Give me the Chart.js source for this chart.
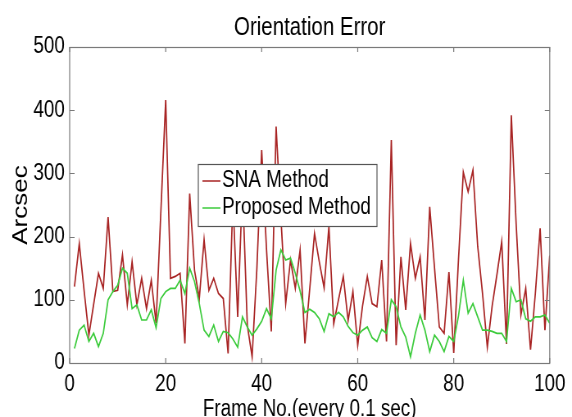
<!DOCTYPE html>
<html lang="en">
<head>
<meta charset="UTF-8">
<title>Orientation Error</title>
<script src="https://cdn.jsdelivr.net/npm/chart.js"></script>
<style>
  html, body { margin: 0; padding: 0; background: #fff; }
  /* the figure is squeezed sideways like the exported image, so the wider
     canvas is shown at 572px */
  #myChart { display: block; }
</style>
</head>
<body>
<canvas id="myChart" width="698" height="417" style="width:572px;height:417px"></canvas>
<script>
const FONT = "'Liberation Sans', Arial, sans-serif";

// values, frame 1..100
const snaMethod = [
  121, 189, 115, 44, 93, 142, 118, 231, 113, 115,
  171, 92, 160, 92, 134, 86, 131, 63, 240, 416,
  134, 137, 142, 31, 268, 147, 102, 195, 115, 134,
  110, 102, 15, 260, 73, 280, 60, 10, 150, 337,
  180, 50, 374, 230, 94, 163, 118, 179, 31, 117,
  205, 160, 119, 216, 62, 100, 137, 67, 113, 28,
  90, 137, 94, 89, 163, 34, 353, 28, 168, 84,
  189, 134, 168, 68, 247, 150, 57, 47, 144, 16,
  165, 302, 271, 305, 184, 110, 25, 90, 140, 192,
  30, 392, 220, 76, 118, 21, 110, 213, 52, 170
];
const proposedMethod = [
  23, 52, 60, 34, 47, 26, 47, 100, 113, 123,
  150, 142, 86, 92, 68, 68, 84, 56, 102, 113,
  118, 118, 131, 110, 150, 129, 94, 52, 42, 60,
  34, 50, 48, 38, 25, 73, 57, 44, 54, 66,
  86, 70, 147, 179, 163, 166, 142, 114, 80, 85,
  80, 70, 50, 78, 73, 80, 73, 58, 48, 44,
  52, 57, 40, 34, 53, 47, 100, 89, 57, 41,
  10, 47, 76, 52, 18, 44, 34, 18, 42, 34,
  75, 131, 79, 94, 73, 52, 52, 50, 47, 47,
  34, 118, 97, 100, 70, 66, 73, 73, 76, 63
];
const frames = snaMethod.map((v, i) => i + 1);
const xTicks = [0, 20, 40, 60, 80, 100];
const yTicks = [0, 100, 200, 300, 400, 500];
const seriesNames = ['SNA Method', 'Proposed Method'];
const seriesColors = ['#A82424', '#3CCB3C'];

// matlab style box with inward ticks, legend drawn over the lines
const boxPlugin = {
    id: 'matlabBox',
    afterDatasetsDraw(chart) {
        const ctx = chart.ctx;
        const a = chart.chartArea;
        const xs = chart.scales.x, ys = chart.scales.y;
        ctx.save();
        ctx.strokeStyle = '#7a7a7a';
        ctx.lineWidth = 1.2;
        ctx.strokeRect(a.left, a.top + 0.5, a.right - a.left, a.bottom - a.top);
        ctx.beginPath();
        xTicks.forEach(v => {
            const px = xs.getPixelForValue(v);
            ctx.moveTo(px, a.bottom); ctx.lineTo(px, a.bottom - 5);
            ctx.moveTo(px, a.top); ctx.lineTo(px, a.top + 5);
        });
        yTicks.forEach(v => {
            const py = Math.round(ys.getPixelForValue(v)) + 0.5;
            ctx.moveTo(a.left, py); ctx.lineTo(a.left + 6, py);
            ctx.moveTo(a.right, py); ctx.lineTo(a.right - 6, py);
        });
        ctx.stroke();

        // legend
        const lx = a.left + 157, ly = a.top + 117, lw = 218, lh = 62;
        ctx.fillStyle = '#fff';
        ctx.fillRect(lx, ly, lw, lh);
        ctx.strokeStyle = '#555';
        ctx.lineWidth = 1.2;
        ctx.strokeRect(lx, ly + 0.5, lw, lh);
        ctx.font = '23px ' + FONT;
        ctx.textBaseline = 'middle';
        ctx.textAlign = 'left';
        seriesNames.forEach((name, i) => {
            const y = ly + 17 + i * 27;
            ctx.strokeStyle = seriesColors[i];
            ctx.lineWidth = 1.5;
            ctx.beginPath();
            ctx.moveTo(lx + 5, y); ctx.lineTo(lx + 27, y);
            ctx.stroke();
            ctx.fillStyle = '#000';
            ctx.fillText(name, lx + 29, y);
        });
        ctx.restore();
    }
};

var ctx = document.getElementById('myChart').getContext('2d');
var myChart = new Chart(ctx, {
    type: 'line',
    data: {
        labels: frames,
        datasets: [{
            label: seriesNames[0],
            data: frames.map((f, i) => ({x: f, y: snaMethod[i]})),
            borderColor: seriesColors[0],
            borderWidth: 1.7,
            pointRadius: 0,
            tension: 0,
            fill: false,
            order: 1
        }, {
            label: seriesNames[1],
            data: frames.map((f, i) => ({x: f, y: proposedMethod[i]})),
            borderColor: seriesColors[1],
            borderWidth: 1.7,
            pointRadius: 0,
            tension: 0,
            fill: false,
            order: 0
        }]
    },
    options: {
        responsive: false,
        animation: false,
        layout: { padding: { left: 0, right: 26, top: 0, bottom: 0 } },
        plugins: {
            legend: { display: false },
            tooltip: { enabled: false },
            title: {
                display: true,
                text: 'Orientation Error',
                color: '#000',
                fullSize: false,
                font: { family: FONT, size: 25, weight: 'normal', lineHeight: 1.2 },
                padding: { top: 13, bottom: 4 }
            }
        },
        scales: {
            x: {
                type: 'linear',
                min: 0,
                max: 100,
                afterBuildTicks: s => { s.ticks = xTicks.map(v => ({value: v})); },
                afterFit: s => { s.height = 54; },
                grid: { display: false, drawTicks: false },
                border: { display: false },
                ticks: {
                    color: '#000',
                    padding: 8,
                    maxRotation: 0,
                    font: { family: FONT, size: 23, lineHeight: 1.2 }
                },
                title: {
                    display: true,
                    text: 'Frame No.(every 0.1 sec)',
                    color: '#000',
                    font: { family: FONT, size: 23, lineHeight: 0.68 },
                    padding: { top: 0, bottom: 0 }
                }
            },
            y: {
                min: 0,
                max: 500,
                afterBuildTicks: s => { s.ticks = yTicks.map(v => ({value: v})); },
                afterFit: s => { s.width = 85; },
                grid: { display: false, drawTicks: false },
                border: { display: false },
                ticks: {
                    color: '#000',
                    padding: 6,
                    font: { family: FONT, size: 23, lineHeight: 1.2 }
                },
                title: {
                    display: true,
                    text: 'Arcsec',
                    color: '#000',
                    font: { family: FONT, size: 26, lineHeight: 1.2 },
                    padding: { top: 10, bottom: 0 }
                }
            }
        }
    },
    plugins: [boxPlugin]
});
</script>
</body>
</html>
